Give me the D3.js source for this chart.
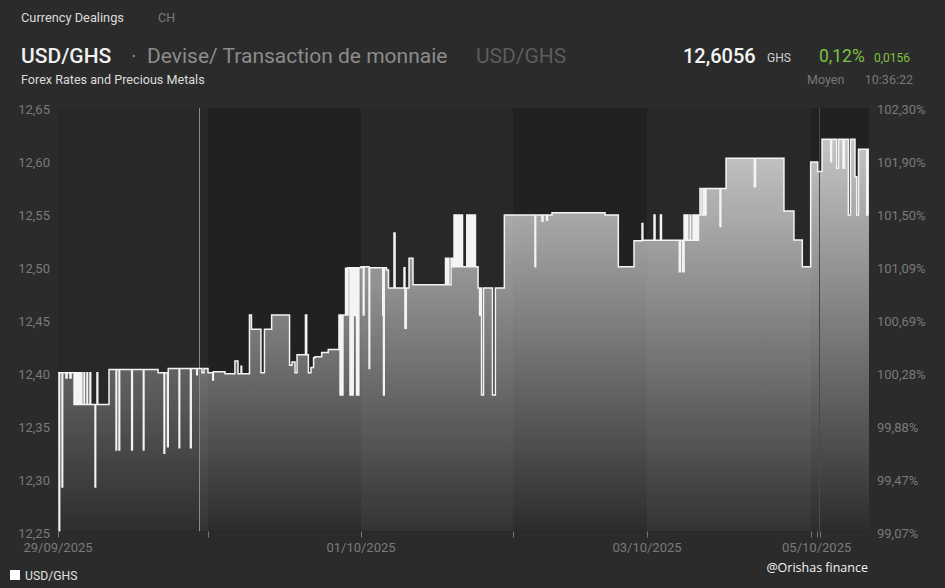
<!DOCTYPE html>
<html><head><meta charset="utf-8">
<script src="https://cdn.jsdelivr.net/npm/d3@7"></script>
<style>
html,body{margin:0;padding:0;background:#2b2b2b;}
svg{display:block;font-family:Roboto,"Noto Sans",sans-serif;}
</style></head><body>
<svg id="chart" width="945" height="588"></svg>
<script>
// ---- data (x = days since 29/09/2025 on the session axis, y = USD/GHS rate) ----
const sep29 = [[0.000,12.400],[0.007,12.250],[0.011,12.400],[0.027,12.292],[0.031,12.400],[0.053,12.395],[0.060,12.400],[0.080,12.395],[0.087,12.400],[0.107,12.370],[0.113,12.400],[0.120,12.370],[0.127,12.400],[0.133,12.370],[0.140,12.400],[0.147,12.370],[0.153,12.400],[0.160,12.370],[0.173,12.400],[0.178,12.370],[0.193,12.400],[0.198,12.370],[0.213,12.400],[0.218,12.370],[0.247,12.292],[0.251,12.370],[0.260,12.400],[0.265,12.370],[0.340,12.403],[0.387,12.327],[0.391,12.403],[0.407,12.327],[0.411,12.403],[0.491,12.327],[0.496,12.403],[0.569,12.327],[0.573,12.403],[0.667,12.400],[0.707,12.324],[0.711,12.400],[0.730,12.330],[0.735,12.404],[0.807,12.329],[0.811,12.404],[0.883,12.329],[0.888,12.404],[0.925,12.398],[0.929,12.404],[0.960,12.400],[0.973,12.404]];
const sep30 = [[1.000,12.400],[1.031,12.393],[1.035,12.401],[1.111,12.399],[1.176,12.411],[1.196,12.399],[1.216,12.406],[1.220,12.399],[1.271,12.4545],[1.284,12.441],[1.346,12.400],[1.369,12.441],[1.416,12.4545],[1.533,12.407],[1.549,12.410],[1.569,12.400],[1.582,12.417],[1.637,12.4545],[1.645,12.417],[1.656,12.400],[1.673,12.405],[1.690,12.414],[1.699,12.415],[1.743,12.419],[1.786,12.422],[1.856,12.4545],[1.863,12.379],[1.869,12.4545],[1.876,12.379],[1.882,12.4545],[1.899,12.4986],[1.908,12.4545],[1.915,12.499],[1.928,12.379],[1.935,12.499],[1.944,12.379],[1.949,12.499],[1.958,12.454],[1.964,12.499],[1.971,12.379],[1.976,12.499],[1.980,12.379],[1.986,12.499]];
const oct01 = [[2.000,12.500],[2.015,12.4545],[2.020,12.500],[2.053,12.404],[2.057,12.499],[2.143,12.4545],[2.148,12.379],[2.153,12.499],[2.168,12.497],[2.181,12.480],[2.217,12.532],[2.224,12.480],[2.283,12.499],[2.289,12.442],[2.298,12.480],[2.316,12.508],[2.342,12.483],[2.556,12.508],[2.563,12.483],[2.572,12.508],[2.579,12.483],[2.592,12.508],[2.602,12.500],[2.612,12.549],[2.618,12.500],[2.625,12.549],[2.635,12.500],[2.645,12.549],[2.651,12.500],[2.658,12.549],[2.668,12.500],[2.696,12.549],[2.701,12.500],[2.707,12.549],[2.714,12.500],[2.720,12.549],[2.727,12.500],[2.734,12.549],[2.740,12.500],[2.745,12.549],[2.753,12.500],[2.770,12.480],[2.780,12.4545],[2.786,12.480],[2.793,12.379],[2.806,12.480],[2.865,12.379],[2.884,12.480],[2.943,12.549]];
const oct02 = [[3.164,12.500],[3.169,12.549],[3.216,12.543],[3.224,12.549],[3.251,12.544],[3.257,12.549],[3.291,12.551],[3.687,12.549],[3.786,12.500],[3.903,12.5247],[3.963,12.541],[3.969,12.525]];
const oct03 = [[4.043,12.549],[4.049,12.525],[4.082,12.549],[4.088,12.525],[4.197,12.4954],[4.204,12.525],[4.218,12.4954],[4.226,12.549],[4.235,12.525],[4.244,12.549],[4.250,12.525],[4.262,12.549],[4.268,12.525],[4.280,12.549],[4.287,12.525],[4.296,12.549],[4.305,12.525],[4.314,12.549],[4.323,12.574],[4.335,12.549],[4.345,12.574],[4.354,12.549],[4.360,12.574],[4.445,12.538],[4.450,12.574],[4.482,12.6025],[4.654,12.5757],[4.662,12.6025],[4.835,12.5527],[4.896,12.5253],[4.947,12.500],[4.998,12.599]];
const oct04to05 = [[5.744,12.590],[6.041,12.6204],[6.218,12.5993],[6.235,12.6204],[6.341,12.593],[6.378,12.6204],[6.469,12.593],[6.500,12.6204],[6.578,12.549],[6.622,12.6204],[6.714,12.585],[6.749,12.549],[6.786,12.611],[6.953,12.549],[6.980,12.611],[7.000,12.611]];

const yTicks = [12.65,12.60,12.55,12.50,12.45,12.40,12.35,12.30,12.25];
const pctLabels = ["102,30%","101,90%","101,50%","101,09%","100,69%","100,28%","99,88%","99,47%","99,07%"];
const sessionBreaks = [0,1,2,3,4,5,6,7];
const sessionWidths = [150,153,152,134,164,9,49]; // relative axis share of each session
const tickDays = [0,1,2,3,4,5,5.63,6];
const labelDays = [0,2,4,5.63];
const labelTexts = ["29/09/2025","01/10/2025","03/10/2025","05/10/2025"];
const lightSessions = [0,2,4];
const markerDays = [0.942,5.86];

// ---- layout ----
const plotL=58, plotR=869, plotT=108, plotB=531.5;
const svg = d3.select("#chart");
const total = d3.sum(sessionWidths);
let acc=0; const xRange=[plotL];
sessionWidths.forEach(w=>{acc+=w; xRange.push(plotL+(plotR-plotL)*acc/total);});
const x = d3.scaleLinear().domain(sessionBreaks).range(xRange);
const y = d3.scaleLinear().domain([12.25,12.65]).range([plotB,plotT]);
const loc = d3.formatLocale({decimal:",",thousands:".",grouping:[3],currency:["",""]});
const f2 = loc.format(".2f");

const series = [...sep29,...sep30,...oct01,...oct02,...oct03,...oct04to05].map(([t,v])=>({t,v}));

const defs = svg.append("defs");
const g = defs.append("linearGradient").attr("id","fillg").attr("gradientUnits","userSpaceOnUse")
  .attr("x1",0).attr("x2",0).attr("y1",plotT).attr("y2",plotB);
g.append("stop").attr("offset",0).attr("stop-color","#d2d2d2");
g.append("stop").attr("offset",1).attr("stop-color","#2c2c2c");
defs.append("clipPath").attr("id","plotclip").append("rect")
  .attr("x",plotL).attr("y",plotT-2).attr("width",plotR-plotL).attr("height",plotB-plotT+2);
defs.append("clipPath").attr("id","preclip").append("rect")
  .attr("x",plotL).attr("y",plotT).attr("width",x(markerDays[0])-plotL).attr("height",plotB-plotT);

svg.append("rect").attr("x",plotL).attr("y",plotT).attr("width",plotR-plotL).attr("height",plotB-plotT).attr("fill","#212121");

const area = d3.area().x(d=>x(d.t)).y0(y(12.25)).y1(d=>y(d.v)).curve(d3.curveStepAfter);
const line = d3.line().x(d=>x(d.t)).y(d=>y(d.v)).curve(d3.curveStepAfter);

const pg = svg.append("g").attr("clip-path","url(#plotclip)");
pg.append("path").datum(series).attr("d",area).attr("fill","url(#fillg)");
pg.append("path").datum(series).attr("d",area).attr("fill","#000").attr("opacity",0.13).attr("clip-path","url(#preclip)");
pg.selectAll("rect.band").data(lightSessions).join("rect").attr("class","band")
  .attr("x",d=>x(d)).attr("width",d=>x(d+1)-x(d)).attr("y",plotT).attr("height",plotB-plotT)
  .attr("fill","#fff").attr("opacity",0.035);
pg.selectAll("line.mk").data(markerDays).join("line").attr("class","mk")
  .attr("x1",d=>Math.round(x(d))+0.5).attr("x2",d=>Math.round(x(d))+0.5).attr("y1",plotT).attr("y2",plotB)
  .attr("stroke",(d,i)=>i===0?"#8a8a8a":"#4a4a4a").attr("stroke-width",1);
pg.append("path").datum(series).attr("d",line).attr("fill","none").attr("stroke","#f4f4f4").attr("stroke-width",1.5);

// y axes
svg.selectAll("text.yl").data(yTicks).join("text").attr("class","yl")
  .attr("x",50).attr("y",d=>y(d)+6).attr("text-anchor","end").attr("font-size",13).attr("fill","#7a7a7a").text(d=>f2(d));
svg.selectAll("text.yr").data(yTicks).join("text").attr("class","yr")
  .attr("x",877).attr("y",d=>y(d)+6).attr("text-anchor","start").attr("font-size",13).attr("fill","#7a7a7a").text((d,i)=>pctLabels[i]);

// x axis
svg.selectAll("line.xt").data(tickDays).join("line").attr("class","xt")
  .attr("x1",d=>Math.round(x(d))+0.5).attr("x2",d=>Math.round(x(d))+0.5).attr("y1",plotB).attr("y2",plotB+6)
  .attr("stroke","#777").attr("stroke-width",1);
svg.selectAll("text.xl").data(labelDays).join("text").attr("class","xl")
  .attr("x",d=>x(d)).attr("y",552).attr("text-anchor","middle").attr("font-size",13).attr("fill","#7a7a7a").text((d,i)=>labelTexts[i]);

// header
const T=(txt,xx,yy,size,fill,weight,anchor)=>svg.append("text").attr("x",xx).attr("y",yy).attr("font-size",size)
  .attr("fill",fill).attr("font-weight",weight||400).attr("text-anchor",anchor||"start").text(txt);
T("Currency Dealings",21,22,12.8,"#dcdcdc");
T("CH",158,22,12.5,"#7a7a7a");
T("USD/GHS",21,63,21,"#f0f0f0",500);
T("·",131,63,21,"#8c8c8c");
T("Devise/ Transaction de monnaie",147,63,21,"#8c8c8c");
T("USD/GHS",476,63,21,"#5c5c5c");
T("12,6056",683,63,20,"#f4f4f4",500);
T("GHS",767,62,12,"#cfcfcf");
T("0,12%",819,62,17.5,"#7cc242");
T("0,0156",874,62,12,"#7cc242");
T("Forex Rates and Precious Metals",21,84,12.6,"#dcdcdc");
T("Moyen",807,84,12.5,"#777");
T("10:36:22",913,84,12.5,"#777",400,"end");

// legend & credit
svg.append("rect").attr("x",10).attr("y",570).attr("width",10).attr("height",10).attr("fill","#fff");
T("USD/GHS",25,580,12.2,"#e0e0e0");
svg.append("text").attr("x",868).attr("y",572).attr("text-anchor","end").attr("font-size",12.5)
  .attr("font-family","'Open Sans',sans-serif").attr("fill","#f5f5f5").text("@Orishas finance");
</script>
</body></html>
